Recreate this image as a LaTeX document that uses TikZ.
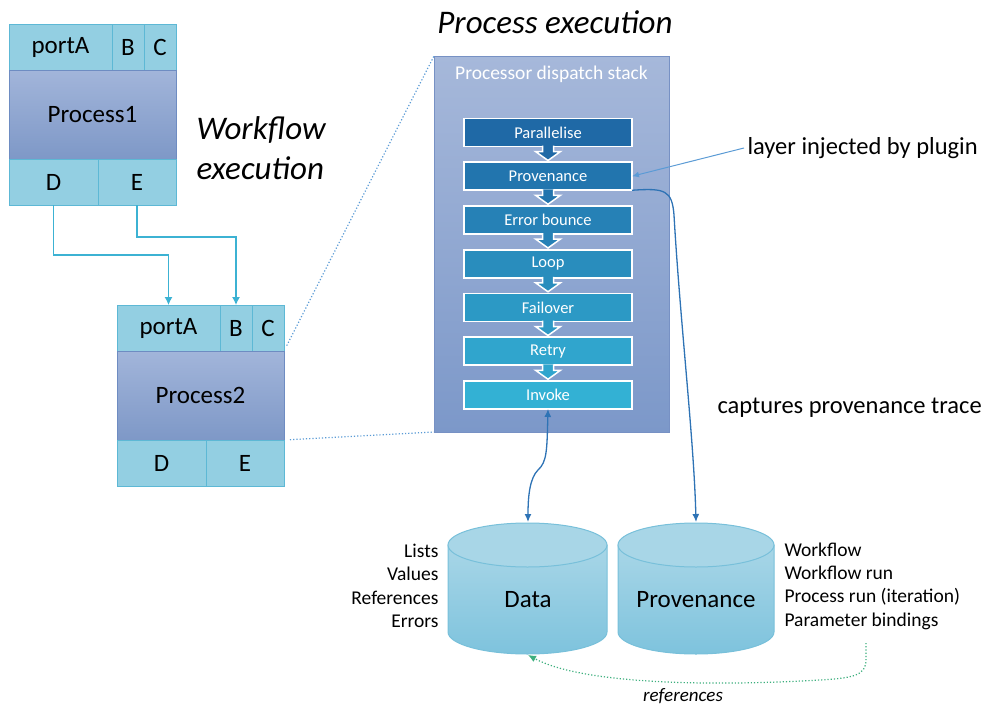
\documentclass[tikz,border=0pt]{standalone}
\usepackage{fontspec}
\setmainfont{Carlito}
\usetikzlibrary{arrows.meta}
\usetikzlibrary{positioning}

\definecolor{portfill}{HTML}{93CFE2}
\definecolor{portline}{HTML}{5DB8D5}
\definecolor{bodytop}{HTML}{A2B5DA}
\definecolor{bodybot}{HTML}{7E98C7}
\definecolor{bodyline}{HTML}{6E8CC2}
\definecolor{stacktop}{HTML}{A6B8DA}
\definecolor{stackbot}{HTML}{7C98C9}
\definecolor{stackline}{HTML}{7791C4}
\definecolor{layerdark}{HTML}{1F69A6}
\definecolor{layerlight}{HTML}{33B1D4}
\definecolor{flowcol}{HTML}{3CB2D3}
\definecolor{linkcol}{HTML}{2E73B5}
\definecolor{hintcol}{HTML}{5B9BD5}
\definecolor{dbtop}{HTML}{A8D6E7}
\definecolor{dbbot}{HTML}{7EC3DD}
\definecolor{dbline}{HTML}{78C0DA}
\definecolor{refcol}{HTML}{3DAF7E}

\tikzset{
  port/.style={draw=portline, fill=portfill, line width=1pt, minimum height=46pt,
    inner sep=0pt, outer sep=0pt, font=\fontsize{25}{29}\selectfont},
  procbody/.style={draw=bodyline, top color=bodytop, bottom color=bodybot, line width=1pt,
    minimum width=167pt, minimum height=89pt, inner sep=0pt, outer sep=0pt,
    font=\fontsize{25}{29}\selectfont},
  stackbox/.style={draw=stackline, top color=stacktop, bottom color=stackbot, line width=1pt,
    minimum width=235pt, minimum height=376pt, inner sep=0pt, outer sep=0pt},
  layer/.style={draw=white, line width=1.8pt, minimum width=168pt, minimum height=28pt,
    inner sep=0pt, outer sep=0pt, text=white, font=\fontsize{16.5}{19}\selectfont},
  title/.style={font=\fontsize{33}{40}\selectfont\itshape},
  note/.style={font=\fontsize{24.5}{29}\selectfont},
  small/.style={font=\fontsize{19.5}{23.3}\selectfont},
  dbtext/.style={font=\fontsize{25}{30}\selectfont},
  flow/.style={draw=flowcol, line width=1.2pt, >={Latex[length=8pt,width=8pt]}},
  link/.style={draw=linkcol, line width=1.3pt, >={Latex[length=8pt,width=7pt]}},
  hint/.style={draw=hintcol, line width=1pt, >={Latex[length=7pt,width=6pt]}},
  zoomline/.style={draw=hintcol, line width=1.2pt, dotted, shorten <=6pt},
  refline/.style={draw=refcol, line width=1.2pt, dotted, >={Latex[length=8pt,width=7pt]}}
}

\begin{document}
\begin{tikzpicture}[x=1pt, y=1pt]
\useasboundingbox (0,0) rectangle (989,-707);

% workflow level: two processes with their ports
\foreach \n/\x/\y in {1/9/24, 2/117/305}{
  \node[port, minimum width=103pt, anchor=north west] (p\n-a) at (\x,-\y) {portA};
  \node[port, minimum width=32pt, anchor=north west] (p\n-b) at (p\n-a.north east) {B};
  \node[port, minimum width=32pt, anchor=north west] (p\n-c) at (p\n-b.north east) {C};
  \node[procbody, anchor=north west] (p\n) at (p\n-a.south west) {Process\n};
  \node[port, minimum width=89pt, anchor=north west] (p\n-d) at (p\n.south west) {D};
  \node[port, minimum width=78pt, anchor=north west] (p\n-e) at (p\n-d.north east) {E};
}
\draw[flow,->] (p1-d.south) -- ++(0,-50) -| (p2-a.north);
\draw[flow,->] (p1-e.south) -- ++(0,-32) -| (p2-b.north);
\node[title, align=left, anchor=west] (wfexec) at (193,-148) {Workflow\\execution};

% process level: dispatch stack
\node[title] (prexec) at (555,-22) {Process execution};
\node[stackbox] (stack) at (551.5,-244) {};
\node[text=white, font=\fontsize{19.5}{23}\selectfont, below=6pt of stack.north] (stacktitle) {Processor dispatch stack};
\draw[zoomline] (p2-c.south east) -- (stack.north west);
\draw[zoomline] (p2.south east) -- (stack.south west);

\foreach \name [count=\i] in {Parallelise,Provenance,Error bounce,Loop,Failover,Retry,Invoke}{
  \pgfmathtruncatemacro\pc{100-(\i-1)*100/6}
  \node[layer, fill=layerdark!\pc!layerlight] (L\i) at (548,{-132.5-43.75*(\i-1)}) {\name};
}
\foreach \i in {1,...,6}{
  \pgfmathtruncatemacro\pc{100-(\i-1)*100/6}
  \path[fill=layerdark!\pc!layerlight, draw=white, line width=1.5pt, shift={(L\i.south)}]
    (-5.5,1) -- (-5.5,-5) -- (-12.5,-5) -- (0,-14) -- (12.5,-5) -- (5.5,-5) -- (5.5,1);
}

\node[note, anchor=west] (inject) at (744,-148) {layer injected by plugin};
\draw[hint,->] (inject.west) -- (L2.east);
\node[note, anchor=west] (capture) at (714,-408) {captures provenance trace};

% data stores
\foreach \cx/\rx in {527.5/79.5, 696/78}{
  \path[top color=dbtop, bottom color=dbbot, draw=dbline, line width=1pt]
    (\cx-\rx,-545) -- (\cx-\rx,-632) arc[start angle=180, end angle=360, x radius=\rx, y radius=22]
    -- (\cx+\rx,-545) -- cycle;
  \path[fill=dbtop, draw=dbline, line width=1pt] (\cx,-545) ellipse[x radius=\rx, y radius=22];
}
\node[dbtext] (data) at (528,-600) {Data};
\node[dbtext] (prov) at (696,-600) {Provenance};
\coordinate (dataTop) at (528,-522);
\coordinate (provTop) at (696,-522);
\coordinate (dataBot) at (528,-655);
\coordinate (refStart) at (866,-643);
\node[small, align=right, anchor=east] (datalist) at (442,-586) {Lists\\Values\\References\\Errors};
\node[small, align=left, anchor=west] (provlist) at (781,-586) {Workflow\\Workflow run\\Process run (iteration)\\Parameter bindings};

\draw[link,<->] (L7.south) .. controls (547,-450) and (547,-462) .. (538,-470)
  .. controls (530,-478) and (528,-495) .. (dataTop);
\draw[link,->] (L2.south east) .. controls (665,-188) and (672,-190) .. (674,-215)
  .. controls (680,-320) and (694,-440) .. (provTop);

\draw[refline,->] (refStart) -- (866,-660) .. controls (866,-676) and (852,-678) .. (820,-680)
  .. controls (700,-687) and (580,-683) .. (dataBot);
\node[font=\fontsize{19}{22}\selectfont\itshape] (reflabel) at (683,-696) {references};
\end{tikzpicture}
\end{document}
